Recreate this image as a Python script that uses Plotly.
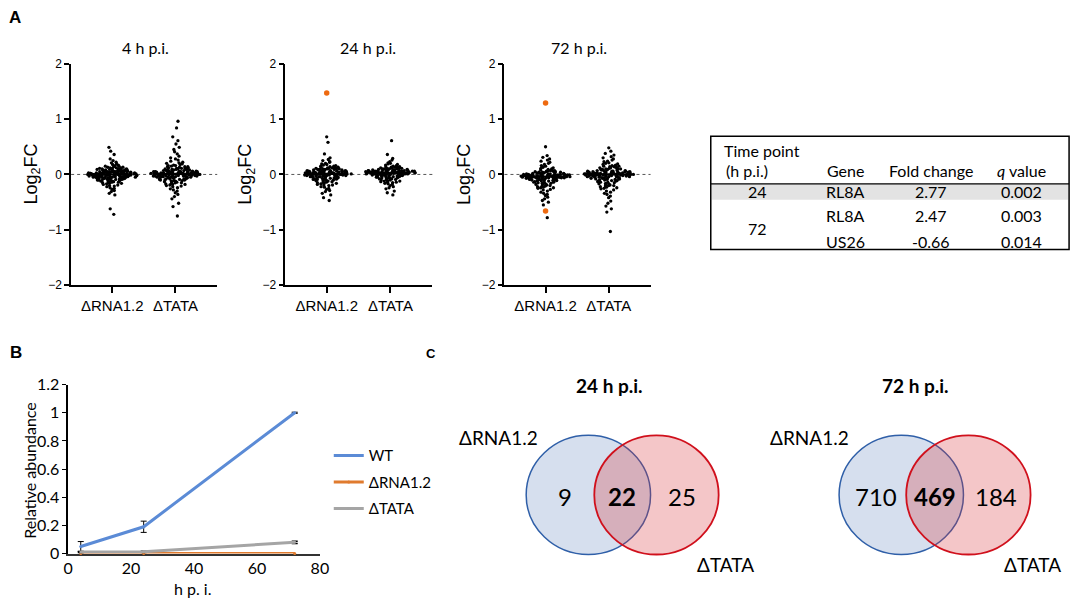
import plotly.graph_objects as go
import numpy as np

W, H = 1084, 609
def px(x): return x / W
# vertical placement helper (pixel row -> paper fraction), small correction for rendering squeeze
def py(y): return 1 - ((y - 7) / 0.975) / H
def py_raw(y): return 1 - y / H

# ---------------- DATA ----------------
groups = ["ΔRNA1.2", "ΔTATA"]
panelA_titles = ["4 h p.i.", "24 h p.i.", "72 h p.i."]

r4 = [0.49, 0.42, 0.36, 0.28, 0.25, 0.22, 0.21, 0.19, 0.18, 0.17,
      0.16, 0.15, 0.15, 0.14, 0.13, 0.13, 0.12, 0.12, 0.11, 0.11,
      0.10, 0.10, 0.10, 0.09, 0.09, 0.09, 0.08, 0.08, 0.08, 0.07,
      0.07, 0.07, 0.06, 0.06, 0.06, 0.06, 0.05, 0.05, 0.05, 0.05,
      0.04, 0.04, 0.04, 0.04, 0.03, 0.03, 0.03, 0.03, 0.03, 0.02,
      0.02, 0.02, 0.02, 0.01, 0.01, 0.01, 0.01, 0.01, 0.00, 0.00,
      0.00, 0.00, 0.00, -0.01, -0.01, -0.01, -0.01, -0.01, -0.02, -0.02,
      -0.02, -0.02, -0.02, -0.03, -0.03, -0.03, -0.03, -0.04, -0.04, -0.04,
      -0.04, -0.05, -0.05, -0.05, -0.05, -0.06, -0.06, -0.06, -0.07, -0.07,
      -0.07, -0.08, -0.08, -0.08, -0.09, -0.09, -0.10, -0.10, -0.11, -0.11,
      -0.12, -0.12, -0.13, -0.13, -0.14, -0.15, -0.15, -0.16, -0.17, -0.18,
      -0.19, -0.20, -0.21, -0.22, -0.24, -0.25, -0.27, -0.29, -0.31, -0.34,
      -0.37, -0.62, -0.72,
      0.12, 0.10, 0.09, 0.08, 0.07, 0.06, 0.05, 0.05, 0.04, 0.04,
      0.03, 0.03, 0.02, 0.02, 0.01, 0.01, 0.00, 0.00, 0.00, -0.01,
      -0.01, -0.02, -0.02, -0.03, -0.03, -0.04, -0.04, -0.05, -0.05, -0.06,
      -0.06, -0.07, -0.08, -0.09, -0.10, -0.11, -0.12, -0.14, -0.16, -0.02,
      -0.01, 0.00, 0.01, 0.02, -0.03]

t4 = [0.96, 0.84, 0.68, 0.61, 0.55, 0.49, 0.45, 0.41, 0.37, 0.33,
      0.30, 0.28, 0.26, 0.24, 0.22, 0.21, 0.20, 0.19, 0.18, 0.17,
      0.16, 0.16, 0.15, 0.14, 0.14, 0.13, 0.12, 0.12, 0.11, 0.11,
      0.10, 0.10, 0.09, 0.09, 0.08, 0.08, 0.08, 0.07, 0.07, 0.07,
      0.06, 0.06, 0.06, 0.05, 0.05, 0.05, 0.05, 0.04, 0.04, 0.04,
      0.03, 0.03, 0.03, 0.03, 0.02, 0.02, 0.02, 0.02, 0.01, 0.01,
      0.01, 0.01, 0.00, 0.00, 0.00, 0.00, -0.01, -0.01, -0.01, -0.01,
      -0.02, -0.02, -0.02, -0.03, -0.03, -0.03, -0.04, -0.04, -0.04, -0.05,
      -0.05, -0.05, -0.06, -0.06, -0.07, -0.07, -0.08, -0.08, -0.09, -0.09,
      -0.10, -0.10, -0.11, -0.12, -0.12, -0.13, -0.14, -0.15, -0.16, -0.17,
      -0.18, -0.19, -0.20, -0.21, -0.22, -0.24, -0.26, -0.28, -0.30, -0.33,
      -0.36, -0.40, -0.44, -0.52, -0.58, -0.75,
      0.14, 0.12, 0.11, 0.10, 0.09, 0.08, 0.07, 0.06, 0.05, 0.05,
      0.04, 0.04, 0.03, 0.03, 0.02, 0.02, 0.01, 0.01, 0.00, 0.00,
      -0.01, -0.01, -0.02, -0.02, -0.03, -0.03, -0.04, -0.05, -0.06, -0.07,
      -0.08, -0.09, -0.10, -0.11, -0.13, -0.15, -0.18, 0.00, 0.01, -0.01,
      0.02, -0.02, 0.03]

r24 = [0.68, 0.58, 0.37, 0.30, 0.27, 0.25, 0.23, 0.22, 0.20, 0.19,
       0.18, 0.17, 0.16, 0.15, 0.15, 0.14, 0.13, 0.13, 0.12, 0.12,
       0.11, 0.11, 0.10, 0.10, 0.10, 0.09, 0.09, 0.09, 0.08, 0.08,
       0.08, 0.07, 0.07, 0.07, 0.06, 0.06, 0.06, 0.06, 0.05, 0.05,
       0.05, 0.05, 0.04, 0.04, 0.04, 0.04, 0.03, 0.03, 0.03, 0.03,
       0.02, 0.02, 0.02, 0.02, 0.01, 0.01, 0.01, 0.01, 0.00, 0.00,
       0.00, 0.00, -0.01, -0.01, -0.01, -0.02, -0.02, -0.02, -0.03, -0.03,
       -0.03, -0.04, -0.04, -0.04, -0.05, -0.05, -0.06, -0.06, -0.07, -0.07,
       -0.08, -0.08, -0.09, -0.09, -0.10, -0.11, -0.11, -0.12, -0.13, -0.14,
       -0.15, -0.16, -0.17, -0.18, -0.19, -0.20, -0.22, -0.23, -0.25, -0.27,
       -0.29, -0.31, -0.34, -0.37, -0.42, -0.47,
       0.14, 0.12, 0.11, 0.10, 0.09, 0.08, 0.07, 0.06, 0.05, 0.05,
       0.04, 0.04, 0.03, 0.03, 0.02, 0.02, 0.01, 0.01, 0.00, 0.00,
       -0.01, -0.01, -0.02, -0.02, -0.03, -0.04, -0.05, -0.06, -0.07, -0.08,
       -0.09, -0.10, -0.12, -0.14, -0.16, -0.19, 0.03, 0.01, -0.01, 0.02,
       0.00, 0.04]

t24 = [0.61, 0.36, 0.29, 0.26, 0.23, 0.21, 0.20, 0.19, 0.18, 0.17,
       0.16, 0.15, 0.15, 0.14, 0.14, 0.13, 0.13, 0.12, 0.12, 0.11,
       0.11, 0.11, 0.10, 0.10, 0.10, 0.09, 0.09, 0.09, 0.08, 0.08,
       0.08, 0.08, 0.07, 0.07, 0.07, 0.07, 0.06, 0.06, 0.06, 0.06,
       0.05, 0.05, 0.05, 0.05, 0.05, 0.04, 0.04, 0.04, 0.04, 0.04,
       0.03, 0.03, 0.03, 0.03, 0.03, 0.02, 0.02, 0.02, 0.02, 0.02,
       0.01, 0.01, 0.01, 0.01, 0.00, 0.00, 0.00, 0.00, -0.01, -0.01,
       -0.01, -0.02, -0.02, -0.02, -0.03, -0.03, -0.04, -0.04, -0.05, -0.05,
       -0.06, -0.06, -0.07, -0.07, -0.08, -0.08, -0.09, -0.10, -0.10, -0.11,
       -0.12, -0.13, -0.14, -0.15, -0.16, -0.17, -0.18, -0.20, -0.22, -0.24,
       -0.26, -0.30, -0.33, -0.37,
       0.13, 0.12, 0.11, 0.10, 0.09, 0.08, 0.07, 0.07, 0.06, 0.06,
       0.05, 0.05, 0.04, 0.04, 0.03, 0.03, 0.02, 0.02, 0.01, 0.01,
       0.00, 0.00, -0.01, -0.02, -0.03, -0.04, -0.05, -0.06, -0.08, -0.10,
       -0.12, -0.14, 0.05, 0.04, 0.03, 0.06, 0.02, 0.04, 0.05, 0.03]

r72 = [0.50, 0.34, 0.31, 0.28, 0.26, 0.24, 0.22, 0.20, 0.18, 0.16,
       0.15, 0.13, 0.12, 0.11, 0.10, 0.09, 0.08, 0.08, 0.07, 0.07,
       0.06, 0.06, 0.05, 0.05, 0.04, 0.04, 0.04, 0.03, 0.03, 0.03,
       0.02, 0.02, 0.02, 0.01, 0.01, 0.01, 0.00, 0.00, 0.00, 0.00,
       -0.01, -0.01, -0.01, -0.01, -0.02, -0.02, -0.02, -0.02, -0.03, -0.03,
       -0.03, -0.03, -0.03, -0.04, -0.04, -0.04, -0.04, -0.04, -0.05, -0.05,
       -0.05, -0.05, -0.06, -0.06, -0.06, -0.06, -0.07, -0.07, -0.07, -0.08,
       -0.08, -0.08, -0.09, -0.09, -0.10, -0.10, -0.11, -0.11, -0.12, -0.12,
       -0.13, -0.13, -0.14, -0.15, -0.15, -0.16, -0.17, -0.18, -0.19, -0.20,
       -0.21, -0.22, -0.23, -0.24, -0.25, -0.27, -0.28, -0.30, -0.32, -0.34,
       -0.36, -0.38, -0.41, -0.44, -0.47, -0.50, -0.55, -0.78,
       0.06, 0.05, 0.04, 0.03, 0.02, 0.01, 0.00, 0.00, -0.01, -0.01,
       -0.02, -0.02, -0.03, -0.03, -0.04, -0.04, -0.05, -0.05, -0.06, -0.06,
       -0.07, -0.08, -0.09, -0.10, -0.11, -0.12, -0.14, -0.16, -0.18, -0.21,
       -0.24, -0.03, -0.04, -0.05, -0.02, -0.06, -0.04, -0.03, -0.05, -0.01]

t72 = [0.48, 0.42, 0.38, 0.35, 0.32, 0.30, 0.28, 0.26, 0.24, 0.23,
       0.21, 0.20, 0.19, 0.18, 0.17, 0.16, 0.15, 0.15, 0.14, 0.13,
       0.12, 0.12, 0.11, 0.10, 0.10, 0.09, 0.09, 0.08, 0.08, 0.07,
       0.07, 0.06, 0.06, 0.06, 0.05, 0.05, 0.05, 0.04, 0.04, 0.04,
       0.03, 0.03, 0.03, 0.02, 0.02, 0.02, 0.02, 0.01, 0.01, 0.01,
       0.01, 0.00, 0.00, 0.00, 0.00, -0.01, -0.01, -0.01, -0.01, -0.02,
       -0.02, -0.02, -0.03, -0.03, -0.03, -0.04, -0.04, -0.04, -0.05, -0.05,
       -0.06, -0.06, -0.07, -0.07, -0.08, -0.08, -0.09, -0.09, -0.10, -0.11,
       -0.11, -0.12, -0.13, -0.14, -0.15, -0.16, -0.17, -0.18, -0.19, -0.20,
       -0.21, -0.22, -0.23, -0.25, -0.26, -0.28, -0.30, -0.32, -0.34, -0.36,
       -0.39, -0.42, -0.48, -0.52, -0.57, -0.62, -0.68, -1.03,
       0.16, 0.14, 0.12, 0.10, 0.09, 0.08, 0.07, 0.06, 0.05, 0.04,
       0.03, 0.02, 0.01, 0.01, 0.00, 0.00, -0.01, -0.02, -0.03, -0.04,
       -0.05, -0.06, -0.07, -0.08, -0.10, -0.12, -0.14, -0.17, -0.20, -0.24,
       0.01, 0.00, -0.01, 0.02, -0.02, 0.03, 0.00, -0.03, 0.01, -0.01]

# significant genes (orange) per time point, in ΔRNA1.2
sig_4 = []
sig_24 = [1.47]
sig_72 = [1.29, -0.66]

# table
tbl_header = ["Gene", "Fold change", "<i>q</i> value"]
tbl_time = ["24", "72"]
tbl_gene = ["RL8A", "RL8A", "US26"]
tbl_fc = ["2.77", "2.47", "-0.66"]
tbl_q = ["0.002", "0.003", "0.014"]

# panel B
hpi = [4, 24, 72]
wt = [0.05, 0.19, 1.0]
wt_err = [0.035, 0.04, 0.004]
rna12 = [0.0, 0.0, 0.0]
tata = [0.01, 0.012, 0.08]
tata_err = [0.004, 0.004, 0.008]
b_names = ["WT", "ΔRNA1.2", "ΔTATA"]
b_colors = ["#5B8BD6", "#E07B2E", "#A5A5A5"]

# panel C
venn_titles = ["24 h p.i.", "72 h p.i."]
venn_only_rna = [9, 710]
venn_both = [22, 469]
venn_only_tata = [25, 184]

# ---------------- FIGURE ----------------
fig = go.Figure()
FONT_A = "Liberation Sans, Arial, sans-serif"
FONT_NARROW = "Liberation Sans Narrow, Arial Narrow, Liberation Sans, sans-serif"
FONT_C = "Lato, Carlito, Calibri, sans-serif"

dataA = [(r4, t4, sig_4), (r24, t24, sig_24), (r72, t72, sig_72)]
domainsA = [(67, 215), (284, 433), (506, 654)]
layout_axes = {}
shapes = []
annotations = []

def ann(text, x, y, size, family=FONT_C, bold=False, xanchor="center", yanchor="middle",
        angle=0, color="black"):
    annotations.append(dict(
        text=f"<b>{text}</b>" if bold else text, x=px(x), y=py(y), xref="paper", yref="paper",
        showarrow=False, xanchor=xanchor, yanchor=yanchor, textangle=angle,
        font=dict(size=size, family=family, color=color)))

for i, ((rv, tv, sv), (x0, x1)) in enumerate(zip(dataA, domainsA), start=1):
    xa = "x" if i == 1 else f"x{i}"
    ya = "y" if i == 1 else f"y{i}"
    for cat, vals in zip(groups, [rv, tv]):
        fig.add_trace(go.Box(
            x=[cat] * len(vals), y=vals, xaxis=xa, yaxis=ya,
            boxpoints="all", jitter=1.0, pointpos=0, width=0.78,
            fillcolor="rgba(0,0,0,0)", line=dict(width=0, color="rgba(0,0,0,0)"),
            marker=dict(size=3.3, color="black"), showlegend=False, hoverinfo="skip"))
        med = float(np.median(vals))
        fig.add_trace(go.Box(
            x=[cat], q1=[med], median=[med], q3=[med], lowerfence=[med], upperfence=[med],
            xaxis=xa, yaxis=ya, width=0.62, boxpoints=False,
            fillcolor="rgba(0,0,0,0)", line=dict(width=2.2, color="black"),
            showlegend=False, hoverinfo="skip"))
    if sv:
        fig.add_trace(go.Scatter(
            x=[groups[0]] * len(sv), y=sv, xaxis=xa, yaxis=ya, mode="markers",
            marker=dict(size=5.5, color="#EE6A10"), showlegend=False, hoverinfo="skip"))
    layout_axes["xaxis" if i == 1 else f"xaxis{i}"] = dict(
        domain=[px(x0), px(x1)], anchor=ya, type="category", categoryarray=groups,
        range=[-0.65, 1.66], showline=True, linecolor="black", linewidth=1.5,
        ticks="outside", ticklen=6, tickwidth=1.5, tickcolor="black",
        tickfont=dict(family=FONT_NARROW, size=15, color="black"),
        showgrid=False, zeroline=False)
    layout_axes["yaxis" if i == 1 else f"yaxis{i}"] = dict(
        domain=[py(284), py(61)], anchor=xa, range=[-2, 2], tickvals=[-2, -1, 0, 1, 2],
        showline=True, linecolor="black", linewidth=1.5, ticks="outside", ticklen=5,
        tickwidth=1.5, tickcolor="black",
        tickfont=dict(family=FONT_A, size=12, color="black"),
        showgrid=False, zeroline=False)
    shapes.append(dict(type="line", xref=f"{xa} domain", yref=ya, x0=0, x1=1, y0=0, y1=0,
                       line=dict(color="#555555", width=1, dash="dot"), layer="below"))
    ann("Log<sub>2</sub>FC", x0 - 39, 172, 18, family=FONT_A, angle=-90)

title_x = [142, 368, 582]
for t, x in zip(panelA_titles, title_x):
    ann(t, x, 45, 16)

# ---- Panel B ----
fig.add_trace(go.Scatter(
    x=hpi, y=wt, name=b_names[0], xaxis="x4", yaxis="y4", mode="lines+markers",
    line=dict(color=b_colors[0], width=3), marker=dict(size=3, color=b_colors[0]),
    error_y=dict(type="data", array=wt_err, color="black", thickness=1, width=3),
    legendgroup="a", cliponaxis=False))
fig.add_trace(go.Scatter(
    x=hpi, y=rna12, name=b_names[1], xaxis="x4", yaxis="y4", mode="lines+markers",
    line=dict(color=b_colors[1], width=3), marker=dict(size=3, color=b_colors[1]),
    legendgroup="b", cliponaxis=False))
fig.add_trace(go.Scatter(
    x=hpi, y=tata, name=b_names[2], xaxis="x4", yaxis="y4", mode="lines+markers",
    line=dict(color=b_colors[2], width=3), marker=dict(size=3, color=b_colors[2]),
    error_y=dict(type="data", array=tata_err, color="black", thickness=1.5, width=3),
    legendgroup="c", cliponaxis=False))

layout_axes["xaxis4"] = dict(
    domain=[px(64), px(319)], anchor="y4", range=[0, 80], tickvals=[0, 20, 40, 60, 80],
    showline=True, linecolor="#333333", linewidth=1.5, ticks="", layer="below traces",
    tickfont=dict(family=FONT_C, size=16, color="black"), showgrid=False, zeroline=False)
layout_axes["yaxis4"] = dict(
    domain=[py(554), py(384)], anchor="x4", range=[0, 1.2],
    tickvals=[0, 0.2, 0.4, 0.6, 0.8, 1.0, 1.2],
    ticktext=["0", "0.2", "0.4", "0.6", "0.8", "1", "1.2"],
    showline=True, linecolor="black", linewidth=1.5, ticks="outside", ticklen=4,
    tickcolor="black", tickfont=dict(family=FONT_C, size=16, color="black"),
    showgrid=False, zeroline=False)
ann("Relative abundance", 24, 470, 16, angle=-90)
ann("h p. i.", 190, 589, 16)

# ---- Table ----
shapes.append(dict(type="rect", xref="paper", yref="paper", x0=px(716), x1=px(1077),
                   y0=py(198), y1=py(182), fillcolor="#E3E3E3", line=dict(width=0), layer="below"))
shapes.append(dict(type="rect", xref="paper", yref="paper", x0=px(715), x1=px(1078),
                   y0=py(248), y1=py(134), line=dict(color="black", width=1.5)))
shapes.append(dict(type="line", xref="paper", yref="paper", x0=px(715), x1=px(1078),
                   y0=py(182), y1=py(182), line=dict(color="black", width=1.2)))
col_x = [852, 938, 1030]
ann("Time point", 726, 148, 16, xanchor="left")
ann("(h p.i.)", 728, 169, 16, xanchor="left")
for h, x in zip(tbl_header, col_x):
    ann(h, x, 169, 16)
ann(tbl_time[0], 762, 190, 16)
ann(tbl_time[1], 762, 227, 16)
row_y = [190, 214, 240]
for g, f, q, y in zip(tbl_gene, tbl_fc, tbl_q, row_y):
    ann(g, col_x[0], y, 16)
    ann(f, col_x[1], y, 16)
    ann(q, col_x[2], y, 16)

# ---- Panel C (Venn) ----
venn_cx = [(591, 660), (908, 976)]
title_cx = [612, 922]
num_x = [(567, 625, 686), (882, 942, 1004)]
lab_rna_x = [500, 815]
lab_tata_x = [730, 1041]
for k in range(2):
    bx, rx = venn_cx[k]
    shapes.append(dict(type="circle", xref="paper", yref="paper",
                       x0=px(bx - 63), x1=px(bx + 63), y0=py(555), y1=py(435),
                       fillcolor="rgba(120,150,200,0.30)", line=dict(color="#2F5FA8", width=1.5)))
    shapes.append(dict(type="circle", xref="paper", yref="paper",
                       x0=px(rx - 63), x1=px(rx + 63), y0=py(555), y1=py(435),
                       fillcolor="rgba(216,51,59,0.28)", line=dict(color="#D0101C", width=1.8)))
    ann(venn_titles[k], title_cx[k], 385, 19, bold=True)
    ann(str(venn_only_rna[k]), num_x[k][0], 497, 24)
    ann(str(venn_both[k]), num_x[k][1], 497, 24, bold=True)
    ann(str(venn_only_tata[k]), num_x[k][2], 497, 24)
    ann("ΔRNA1.2", lab_rna_x[k], 437, 19)
    ann("ΔTATA", lab_tata_x[k], 565, 19)

# panel labels
ann("A", 10, 15, 17, family=FONT_A, bold=True)
ann("B", 11, 352, 17, family=FONT_A, bold=True)
ann("C", 432, 353, 13, family=FONT_A, bold=True)

fig.update_layout(
    width=W, height=H, margin=dict(l=0, r=0, t=0, b=0),
    paper_bgcolor="white", plot_bgcolor="white",
    font=dict(family=FONT_C, color="black"),
    shapes=shapes, annotations=annotations,
    legend=dict(x=px(328), y=py_raw(443), xanchor="left", yanchor="top",
                font=dict(family=FONT_C, size=15, color="black"),
                tracegroupgap=4, bgcolor="rgba(0,0,0,0)"),
    boxmode="overlay",
    **layout_axes)

fig.write_html(
    "out.html", config={"displayModeBar": False},
    post_script=(
        "document.documentElement.style.margin='0px';"
        "document.body.style.margin='0px';"
        "document.body.style.fontSize='0px';"
        "document.body.style.lineHeight='0';"
        "document.documentElement.style.overflow='hidden';"
        "var gd=document.querySelector('.plotly-graph-div');"
        "gd.style.position='absolute';gd.style.left='0px';gd.style.top='0px';"))
